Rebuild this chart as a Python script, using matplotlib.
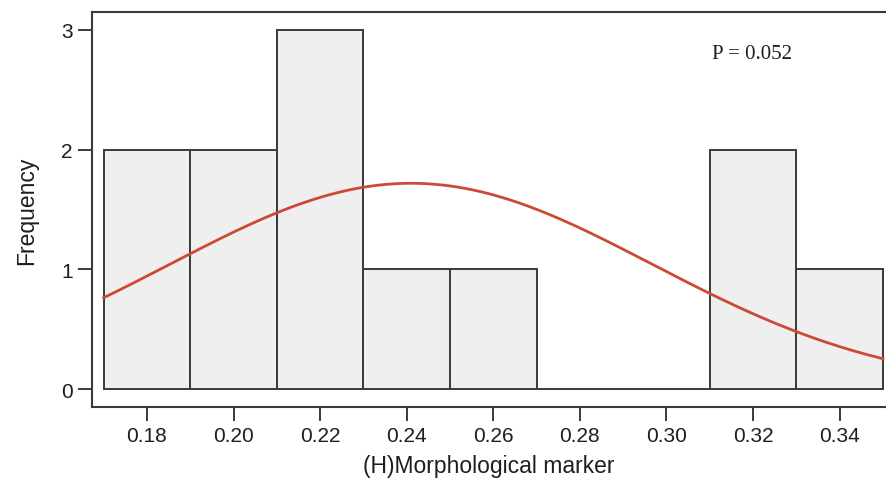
import numpy as np
import matplotlib
matplotlib.use("Agg")
import matplotlib.pyplot as plt

# histogram bins of the morphological marker and their counts
bin_edges = [0.17, 0.19, 0.21, 0.23, 0.25, 0.27, 0.29, 0.31, 0.33, 0.35]
counts = [2, 2, 3, 1, 1, 0, 0, 2, 1]

# fitted normal curve parameters
fit_mean = 0.241
fit_sd = 0.0557
n_obs = sum(counts)

x_ticks = [0.18, 0.20, 0.22, 0.24, 0.26, 0.28, 0.30, 0.32, 0.34]
y_ticks = [0, 1, 2, 3]
p_text = "P = 0.052"

plt.rcParams["font.family"] = ["Liberation Sans", "DejaVu Sans"]
EDGE = "#3a3a3a"
TXT = "#1e1e1e"

fig = plt.figure(figsize=(8.86, 4.85), dpi=100)
ax = fig.add_axes([0.1038, 0.1588, 0.8962, 0.8144])

lefts = np.array(bin_edges[:-1])
widths = np.diff(bin_edges)
ax.bar(lefts, counts, width=widths, align="edge", color="#efefef",
       edgecolor=EDGE, linewidth=1.4, zorder=2)

bw = widths[0]
xs = np.linspace(bin_edges[0], bin_edges[-1], 300)
ys = n_obs * bw / (fit_sd * np.sqrt(2 * np.pi)) * np.exp(-0.5 * ((xs - fit_mean) / fit_sd) ** 2)
ax.plot(xs, ys, color="#cc4a35", linewidth=2.0, zorder=3)

ax.set_xlim(0.1673, 0.3507)
ax.set_ylim(-0.15, 3.15)
ax.set_xticks(x_ticks)
ax.set_xticklabels([f"{t:.2f}" for t in x_ticks])
ax.set_yticks(y_ticks)

for s in ["left", "top", "bottom"]:
    ax.spines[s].set_color(EDGE)
    ax.spines[s].set_linewidth(1.5)
ax.spines["right"].set_visible(False)
ax.tick_params(axis="both", direction="out", length=10, width=1.4,
               color=EDGE, labelsize=15, labelcolor=TXT, pad=4)

ax.set_xlabel("(H)Morphological marker", fontsize=16.5, color=TXT, labelpad=6)
ax.set_ylabel("Frequency", fontsize=16.5, color=TXT, labelpad=16)

ax.text(0.3197, 2.80, p_text, family=["Liberation Serif", "DejaVu Serif"],
        fontsize=15, color=TXT, ha="center", va="center")

fig.savefig("out.png", dpi=100)
